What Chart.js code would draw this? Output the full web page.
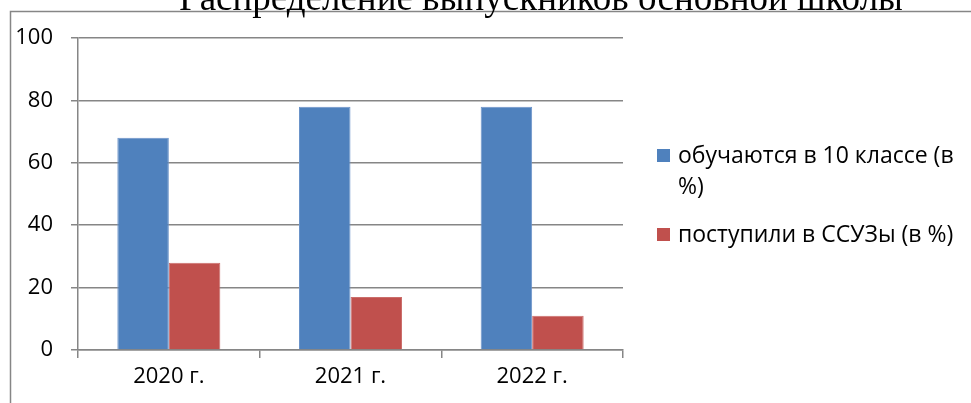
<!DOCTYPE html>
<html>
<head>
<meta charset="utf-8">
<script src="https://cdn.jsdelivr.net/npm/chart.js@4/dist/chart.umd.min.js"></script>
<style>
html,body{margin:0;padding:0;background:#fff;}
#wrap{position:relative;width:971px;height:403px;}
</style>
</head>
<body>
<div id="wrap"><canvas id="c" width="971" height="403"></canvas></div>
<script>
const title = "Распределение выпускников основной школы";
const categories = ["2020 г.", "2021 г.", "2022 г."];
const seriesNames = ["обучаются в 10 классе (в %)", "поступили в ССУЗы (в %)"];
const studying10 = [68, 78, 78];
const enteredColleges = [28, 17, 11];
const yTicks = [0, 20, 40, 60, 80, 100];

const GRID = '#868686';
const FONT = "'Open Sans', sans-serif";

const framePlugin = {
  id: 'frameTitle',
  beforeDraw(chart) {
    const ctx = chart.ctx;
    ctx.save();
    ctx.fillStyle = '#fff';
    ctx.fillRect(0, 0, chart.width, chart.height);
    ctx.strokeStyle = GRID;
    ctx.lineWidth = 1.5;
    ctx.strokeRect(10.5, 11.5, chart.width + 20, chart.height + 20);
    ctx.fillStyle = '#000';
    ctx.font = "37px 'Liberation Serif', serif";
    ctx.textAlign = 'center';
    ctx.textBaseline = 'alphabetic';
    ctx.fillText(title, 541, 10);
    ctx.restore();
  },
  afterDraw(chart) {
    const ctx = chart.ctx;
    ctx.save();
    ctx.font = "23px " + FONT;
    ctx.textBaseline = 'middle';
    ctx.textAlign = 'left';
    const x0 = 657, tx = 678, maxW = 288, lineH = 31, itemGap = 48;
    let y = 156;
    chart.data.datasets.forEach((ds) => {
      const words = ds.label.split(' ');
      const lines = [];
      let cur = '';
      words.forEach(w => {
        const t = cur ? cur + ' ' + w : w;
        if (ctx.measureText(t).width > maxW && cur) { lines.push(cur); cur = w; }
        else cur = t;
      });
      if (cur) lines.push(cur);
      ctx.fillStyle = ds.backgroundColor;
      ctx.fillRect(x0, y - 7, 13, 13);
      ctx.fillStyle = '#000';
      lines.forEach((ln, i) => ctx.fillText(ln, tx, y + i * lineH));
      y += (lines.length - 1) * lineH + itemGap;
    });
    ctx.restore();
  }
};

new Chart(document.getElementById('c'), {
  type: 'bar',
  data: {
    labels: categories,
    datasets: [
      { label: seriesNames[0], data: studying10, backgroundColor: '#4F81BD', borderColor: '#6B93C9', borderWidth: 1 },
      { label: seriesNames[1], data: enteredColleges, backgroundColor: '#C0504D', borderColor: '#CB6E6B', borderWidth: 1 }
    ]
  },
  options: {
    responsive: false,
    animation: false,
    devicePixelRatio: 1,
    layout: { padding: { left: 0, top: 38, right: 348, bottom: 0 } },
    datasets: { bar: { categoryPercentage: 0.567, barPercentage: 1 } },
    plugins: { legend: { display: false }, title: { display: false }, tooltip: { enabled: false } },
    scales: {
      x: {
        offset: true,
        grid: { offset: true, drawOnChartArea: false, color: GRID, lineWidth: 1.5, tickLength: 8 },
        border: { display: true, color: GRID, width: 1.5 },
        ticks: { color: '#000', font: { family: FONT, size: 22 }, padding: 6 },
        afterFit(s) { s.height = 53; }
      },
      y: {
        min: 0, max: 100,
        afterBuildTicks(s) { s.ticks = yTicks.map(v => ({ value: v })); },
        grid: { color: GRID, lineWidth: 1.5, tickLength: 7 },
        border: { display: true, color: GRID, width: 1.5 },
        ticks: { color: '#000', font: { family: FONT, size: 22 }, padding: 18 },
        afterFit(s) { s.width = 78; }
      }
    }
  },
  plugins: [framePlugin]
});
</script>
</body>
</html>
